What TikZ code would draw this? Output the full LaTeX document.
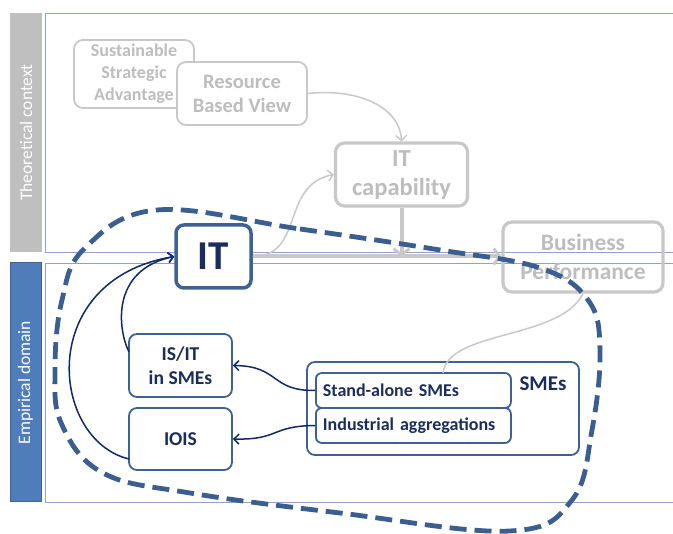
\documentclass[tikz,border=0pt]{standalone}
\usepackage{fontspec}
\setmainfont{Carlito}
\usetikzlibrary{arrows.meta}
\definecolor{frameline}{HTML}{8FA3C6}
\definecolor{sidegray}{HTML}{BFBFBF}
\definecolor{sideblue}{HTML}{4F7DBA}
\definecolor{sideblueline}{HTML}{3C6496}
\definecolor{gline}{HTML}{C8C8C8}
\definecolor{gtext}{HTML}{BDBDBD}
\definecolor{bline}{HTML}{3D6192}
\definecolor{navy}{HTML}{1B2D5E}
\definecolor{arrnavy}{HTML}{10296A}
\definecolor{loopblue}{HTML}{3A5E90}
\newcommand\fsz[2]{\fontsize{#1}{#2}\selectfont}
\begin{document}
\begin{tikzpicture}[x=1pt,y=-1pt,
  gbox/.style={draw=gline, rounded corners=9pt, align=center, text=gtext, inner sep=0pt},
  bbox/.style={draw=bline, line width=1.8pt, rounded corners=8pt, align=center, text=navy, fill=white, inner sep=0pt},
  garrow/.style={draw=gline, line width=1.5pt, -{Straight Barb[length=5pt,width=11pt,line width=1.5pt]}},
  gthick/.style={draw=gline, line width=4pt, -{Straight Barb[length=6pt,width=16pt,line width=2.8pt]}},
  narrow/.style={draw=arrnavy, line width=1.5pt, -{Straight Barb[length=5pt,width=10pt,line width=1.5pt]}},
  frame/.style={draw=frameline, line width=0.8pt},
  sidetext/.style={rotate=90, text=white, font=\fsz{17.5}{20}},
]
\useasboundingbox (0,0) rectangle (673,534);

% side bars
\fill[sidegray] (10,13) rectangle (42,252);
\node[sidetext] (theo) at (26,132.5) {Theoretical context};
\draw[draw=sideblueline, line width=1pt, fill=sideblue] (10,263) rectangle (41,502);
\node[sidetext] (emp) at (25.5,382.5) {Empirical domain};

% panel frames
\draw[frame] (673,13) -- (45,13) -- (45,252) -- (673,252);
\draw[frame] (673,263) -- (45,263) -- (45,502) -- (673,502);

% theoretical nodes
\node[gbox, line width=1.8pt, minimum width=120pt, minimum height=68pt, font=\bfseries\fsz{18}{22}]
  (ssa) at (134,74) {Sustainable\\Strategic\\Advantage};
\node[gbox, line width=1.8pt, fill=white, minimum width=130pt, minimum height=63pt, font=\bfseries\fsz{20.5}{24}]
  (rbv) at (242,93.5) {Resource\\Based View};
\node[gbox, line width=3.2pt, fill=white, minimum width=132pt, minimum height=63pt, font=\bfseries\fsz{24.5}{29}]
  (itc) at (401.5,174.5) {IT\\capability};
\node[gbox, line width=3.2pt, minimum width=160pt, minimum height=70pt, font=\bfseries\fsz{23.5}{29}]
  (bp) at (583,257) {Business\\Performance};

% empirical nodes
\node[bbox, line width=3.5pt, minimum width=75pt, minimum height=63pt, font=\bfseries\fsz{41}{44}]
  (it) at (213.5,256.5) {IT};
\node[bbox, minimum width=103pt, minimum height=63pt, font=\bfseries\fsz{19.6}{23.5}]
  (isit) at (180.5,365.5) {IS/IT\\in SMEs};
\node[bbox, minimum width=103pt, minimum height=62pt, font=\bfseries\fsz{19.6}{23.5}]
  (iois) at (180.5,439) {IOIS};
\node[bbox, minimum width=272pt, minimum height=93pt] (smes) at (443,408.5) {};
\node[text=navy, font=\bfseries\fsz{21}{24}, inner sep=0pt] (smelbl) at (543,384) {SMEs};
\node[bbox, rounded corners=6pt, minimum width=195pt, minimum height=35pt, font=\bfseries\fsz{18}{20}, anchor=west, text width=181pt, align=left]
  (sa) at (315,390.5) {Stand-alone SMEs};
\node[bbox, rounded corners=6pt, minimum width=195pt, minimum height=35pt, font=\bfseries\fsz{18}{20}, anchor=west, text width=181pt, align=left]
  (ia) at (315,425.5) {Industrial aggregations};

% theoretical links
\draw[garrow] (rbv.east) .. controls (360,88) and (400,108) .. (itc.north);
\draw[garrow] (it.east) .. controls (305,256) and (280,185) .. (itc.west);
\coordinate (itcfoot) at (itc.south |- it.east);
\draw[gthick] (itc.south) -- (itcfoot);
\draw[gthick] (it.east) -- (it.east -| bp.west);
\draw[draw=gline, line width=1.5pt] (443,373) .. controls (448,330) and (560,340) .. (bp.south);

% empirical links
\draw[narrow] (129,352) .. controls (118,330) and (110,270) .. (it.west);
\draw[narrow] (129,459) .. controls (50,440) and (35,280) .. (it.west);
\draw[narrow] (sa.west) .. controls (270,391) and (280,366) .. (isit.east);
\draw[narrow] (ia.west) .. controls (270,426) and (280,440) .. (iois.east);

% scope of the study
\draw[loopblue, line width=4.8pt, dash pattern=on 17pt off 8pt]
  plot[smooth cycle, tension=0.65] coordinates {
    (157,210) (300,229) (440,250) (540,268) (588,300) (600,350) (592,430)
    (572,500) (510,531) (340,513) (190,493) (103,473) (62,425) (55,370)
    (62,300) (85,248)};
\end{tikzpicture}
\end{document}
